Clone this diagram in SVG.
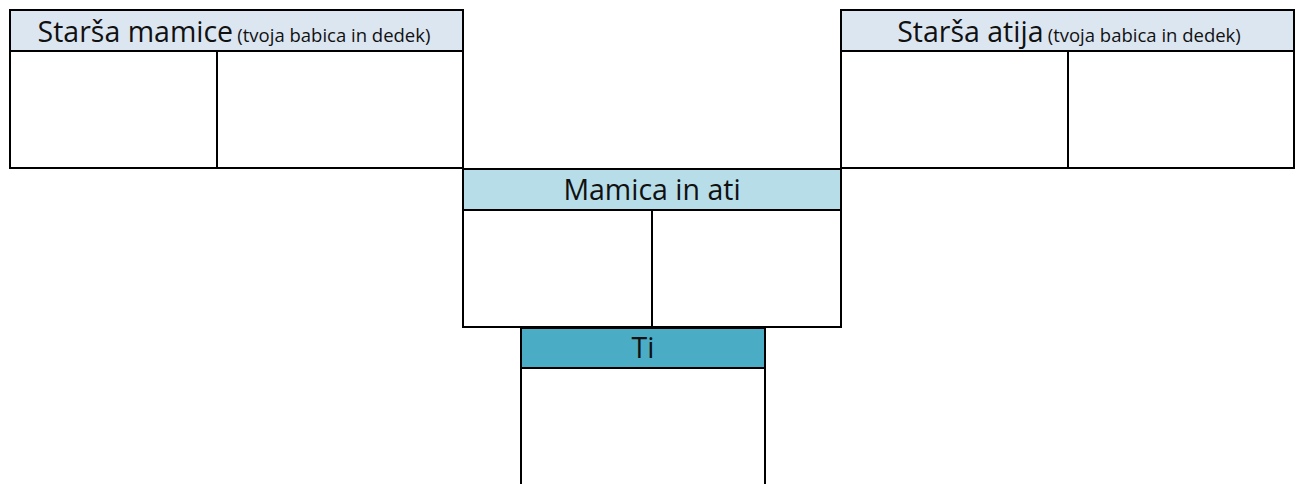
<svg xmlns="http://www.w3.org/2000/svg" width="1300" height="484" viewBox="0 0 1300 484">
<style>
.ln{fill:none;stroke:#000;stroke-width:2;stroke-linecap:square}
.h1{fill:#DCE6F1}
.h2{fill:#B7DDE8}
.h3{fill:#4BACC6}
.t{font-family:"Open Sans","Noto Sans",sans-serif;fill:#111;text-anchor:middle}
.big{font-size:28.5px}
.sm{font-size:18.5px}
</style>
<rect width="1300" height="484" fill="#fff"/>
<g id="starsa-mamice">
<rect class="h1" x="10" y="10" width="453" height="41"/>
<path class="ln" d="M10,10H463V168H10Z M10,51H463 M217,51V168"/>
<text class="t" x="234" y="42"><tspan class="big">Starša mamice</tspan> <tspan class="sm">(tvoja babica in dedek)</tspan></text>
</g>
<g id="starsa-atija">
<rect class="h1" x="841" y="10" width="453" height="41"/>
<path class="ln" d="M841,10H1294V168H841Z M841,51H1294 M1068,51V168"/>
<text class="t" x="1069" y="42"><tspan class="big">Starša atija</tspan> <tspan class="sm">(tvoja babica in dedek)</tspan></text>
</g>
<g id="mamica-in-ati">
<rect class="h2" x="463" y="169" width="378" height="41"/>
<path class="ln" d="M463,169H841V327H463Z M463,210H841 M652,210V327"/>
<text class="t big" x="652" y="200">Mamica in ati</text>
</g>
<g id="ti">
<rect class="h3" x="521" y="328" width="244" height="40"/>
<path class="ln" d="M521,490V328H765V490 M521,368H765"/>
<text class="t big" x="643" y="358">Ti</text>
</g>
<g id="connectors"></g>
</svg>
